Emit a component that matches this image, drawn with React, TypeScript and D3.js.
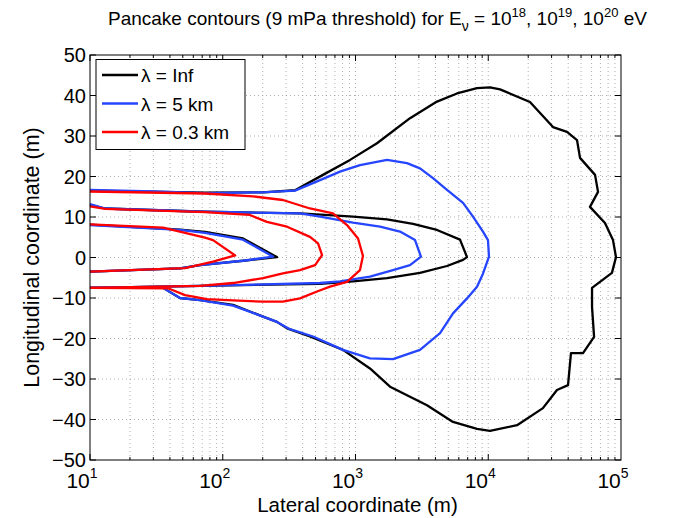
import React, { useRef, useEffect } from 'react';
import * as d3 from 'd3';

type Pt = [number, number];

// λ = Inf contours (10^18, 10^19, 10^20 eV)
const infInner: Pt[] = [[10, 8.1], [47.6, 6.9], [73.5, 6.3], [142, 4.7], [256, 0.1], [142, -0.8], [67.5, -1.9], [47.6, -2.7], [10, -3.5]];
const infMiddle: Pt[] = [[10, 13.0], [13, 12.1], [73.5, 11.3], [382, 10.9], [677, 10.4], [958, 10.1], [1727, 9.4], [2712, 8.3], [4110, 6.8], [6128, 4.4], [6918, 0.1], [6456, -0.6], [4890, -2.1], [3061, -3.8], [1727, -5.1], [958, -5.9], [541, -6.5], [67.5, -7.0], [10, -7.5]];
const infOuter: Pt[] = [[10, 16.5], [73.5, 16.0], [200, 16.1], [350, 16.6], [569, 20.4], [910, 24.1], [1452, 28.2], [2575, 34.4], [4110, 38.5], [5818, 40.5], [8229, 41.8], [10310, 42.0], [12270, 41.5], [20620, 38.4], [30740, 32.2], [39200, 31.0], [46620, 29.0], [49110, 24.6], [63740, 20.4], [67140, 16.2], [58380, 12.5], [75730, 8.5], [87040, 4.3], [91680, 0.1], [85450, -3.8], [60500, -7.5], [60500, -12.2], [62690, -19.6], [51750, -23.6], [41990, -23.6], [39900, -31.5], [32940, -32.7], [25820, -37.2], [16480, -41.4], [10310, -42.8], [8229, -42.3], [5428, -40.6], [3456, -36.5], [1820, -31.9], [1285, -27.4], [805, -22.8], [454, -19.5], [305, -17.5], [256, -15.9], [201, -14.6], [119.5, -11.7], [67.5, -10.5], [47.6, -10.0], [35.5, -7.5], [10, -7.5]];

// λ = 5 km contours
const km5Inner: Pt[] = [[10, 8.0], [47.6, 6.8], [73.5, 6.1], [142, 4.4], [240, 0.2], [142, -0.8], [67.5, -1.9], [47.6, -2.7], [10, -3.5]];
const km5Middle: Pt[] = [[10, 13.2], [13, 12.1], [73.5, 11.3], [382, 10.9], [541, 10.1], [958, 8.6], [1531, 7.6], [2163, 6.4], [2808, 4.3], [3113, 0.2], [2575, -1.9], [1916, -3.1], [1285, -4.7], [764, -5.9], [541, -6.3], [67.5, -7.0], [10, -7.5]];
const km5Outer: Pt[] = [[10, 16.7], [30, 16.3], [73.5, 15.9], [200, 16.1], [350, 16.5], [541, 19.1], [764, 21.2], [1081, 22.8], [1727, 24.1], [2443, 23.3], [3061, 22.0], [3835, 19.6], [4890, 16.7], [6456, 13.5], [7677, 10.1], [9126, 6.4], [9954, 4.3], [10130, 0.2], [9126, -4.0], [8229, -7.2], [6918, -10.1], [5428, -13.8], [4334, -18.7], [3061, -22.8], [1916, -25.1], [1285, -24.9], [805, -22.8], [479, -19.5], [321, -17.7], [256, -15.9], [201, -14.6], [119.5, -11.9], [67.5, -10.5], [47.6, -10.0], [35.5, -7.5], [10, -7.5]];

// λ = 0.3 km contours
const km03Inner: Pt[] = [[10, 8.2], [35.5, 7.4], [52, 6.1], [73.5, 4.9], [84.5, 4.3], [124, 0.5], [84.5, -1.0], [52, -2.6], [10, -3.5]];
const km03Middle: Pt[] = [[10, 12.6], [13, 12.0], [73.5, 11.2], [160, 10.5], [215, 8.8], [305, 7.6], [454, 5.1], [522, 3.5], [560, 0.6], [496, -1.9], [382, -3.1], [284, -3.9], [201, -5.1], [119.5, -6.3], [67.5, -7.0], [10, -7.5]];
const km03Outer: Pt[] = [[10, 16.3], [73.5, 15.8], [169, 15.1], [284, 14.2], [454, 12.1], [677, 10.9], [863, 8.0], [1045, 4.7], [1138, 0.4], [1081, -3.1], [863, -6.0], [643, -7.2], [513, -8.4], [382, -10.1], [284, -10.9], [201, -10.9], [119.5, -10.6], [76, -10.3], [52, -9.3], [38.7, -7.6], [10, -7.5]];

const seriesNames = ['λ = Inf', 'λ = 5 km', 'λ = 0.3 km'];
const seriesColors = ['#000000', '#2545ff', '#ff0000'];
const seriesContours: Pt[][][] = [
  [infInner, infMiddle, infOuter],
  [km5Inner, km5Middle, km5Outer],
  [km03Inner, km03Middle, km03Outer],
];

const xTickExps = [1, 2, 3, 4, 5];
const yTicks = [50, 40, 30, 20, 10, 0, -10, -20, -30, -40, -50];

const W = 690;
const H = 518;
const mL = 90, mR = 621, mT = 55, mB = 460;
const FONT = 'Liberation Sans, Arial, Helvetica, sans-serif';

export default function App() {
  const svgRef = useRef<SVGSVGElement>(null);

  useEffect(() => {
    if (!svgRef.current) return;
    const svg = d3.select(svgRef.current);
    svg.selectAll('*').remove();

    const x = d3.scaleLog().domain([10, 1e5]).range([mL, mR]);
    const y = d3.scaleLinear().domain([-50, 50]).range([mB, mT]);

    svg.append('rect').attr('width', W).attr('height', H).attr('fill', '#fff');

    // grid
    const grid = svg.append('g').attr('stroke', '#999').attr('stroke-width', 0.8).attr('stroke-dasharray', '1,3');
    const minorX: number[] = [];
    for (let d = 1; d < 5; d++) for (let m = 1; m <= 9; m++) minorX.push(m * Math.pow(10, d));
    minorX.filter(v => v > 10).forEach(v => {
      grid.append('line').attr('x1', x(v)).attr('x2', x(v)).attr('y1', mT).attr('y2', mB);
    });
    yTicks.filter(v => v > -50 && v < 50).forEach(v => {
      grid.append('line').attr('x1', mL).attr('x2', mR).attr('y1', y(v)).attr('y2', y(v));
    });

    // curves (red drawn last, on top)
    const line = d3.line<Pt>().x(d => x(d[0])).y(d => y(d[1]));
    const curves = svg.append('g').attr('fill', 'none').attr('stroke-width', 2.3).attr('stroke-linejoin', 'round');
    [0, 1, 2].forEach(i => {
      seriesContours[i].forEach(c => {
        curves.append('path').attr('d', line(c)!).attr('stroke', seriesColors[i]);
      });
    });

    // axes box + ticks
    const ax = svg.append('g').attr('stroke', '#000').attr('stroke-width', 1);
    ax.append('rect').attr('x', mL).attr('y', mT).attr('width', mR - mL).attr('height', mB - mT).attr('fill', 'none');
    minorX.forEach(v => {
      const major = xTickExps.includes(Math.log10(v));
      const len = major ? 6 : 3;
      ax.append('line').attr('x1', x(v)).attr('x2', x(v)).attr('y1', mB).attr('y2', mB - len);
      ax.append('line').attr('x1', x(v)).attr('x2', x(v)).attr('y1', mT).attr('y2', mT + len);
    });
    yTicks.forEach(v => {
      ax.append('line').attr('x1', mL).attr('x2', mL + 6).attr('y1', y(v)).attr('y2', y(v));
      ax.append('line').attr('x1', mR).attr('x2', mR - 6).attr('y1', y(v)).attr('y2', y(v));
    });

    // y tick labels
    const yl = svg.append('g').attr('font-family', FONT).attr('font-size', 20).attr('fill', '#000');
    yTicks.forEach(v => {
      yl.append('text').attr('x', mL - 4).attr('y', y(v) + 7).attr('text-anchor', 'end')
        .text(v < 0 ? '\u2212' + Math.abs(v) : String(v));
    });

    // x tick labels
    xTickExps.forEach(e => {
      const t = svg.append('text').attr('font-family', FONT).attr('font-size', 21)
        .attr('x', x(Math.pow(10, e)) - 8).attr('y', 488).attr('text-anchor', 'middle');
      t.append('tspan').text('10');
      t.append('tspan').attr('font-size', 14).attr('dy', -10).text(String(e));
    });

    // axis labels
    svg.append('text').attr('font-family', FONT).attr('font-size', 20.5)
      .attr('x', (mL + mR) / 2 + 2).attr('y', 512).attr('text-anchor', 'middle').text('Lateral coordinate (m)');
    svg.append('text').attr('font-family', FONT).attr('font-size', 21.5)
      .attr('transform', `translate(39,${(mT + mB) / 2}) rotate(-90)`).attr('text-anchor', 'middle')
      .text('Longitudinal coordinate (m)');

    // title
    const title = svg.append('text').attr('font-family', FONT).attr('font-size', 19)
      .attr('x', 108).attr('y', 25).attr('text-anchor', 'start');
    title.append('tspan').text('Pancake contours (9 mPa threshold) for E');
    title.append('tspan').attr('font-size', 14).attr('dy', 6).text('\u03BD');
    title.append('tspan').attr('dy', -6).text(' = 10');
    title.append('tspan').attr('font-size', 13).attr('dy', -8).text('18');
    title.append('tspan').attr('dy', 8).text(', 10');
    title.append('tspan').attr('font-size', 13).attr('dy', -8).text('19');
    title.append('tspan').attr('dy', 8).text(', 10');
    title.append('tspan').attr('font-size', 13).attr('dy', -8).text('20');
    title.append('tspan').attr('dy', 8).text(' eV');

    // legend
    const lg = svg.append('g');
    lg.append('rect').attr('x', 96).attr('y', 59.5).attr('width', 149).attr('height', 90)
      .attr('fill', '#fff').attr('stroke', '#000').attr('stroke-width', 1);
    seriesNames.forEach((name, i) => {
      const cy = 75 + i * 28.5;
      lg.append('line').attr('x1', 102).attr('x2', 138).attr('y1', cy).attr('y2', cy)
        .attr('stroke', seriesColors[i]).attr('stroke-width', 2.3);
      lg.append('text').attr('font-family', FONT).attr('font-size', 19).attr('x', 141).attr('y', cy + 7).text(name);
    });
  }, []);

  return <svg ref={svgRef} width={W} height={H} style={{ position: 'absolute', left: 0, top: 0 }} />;
}
